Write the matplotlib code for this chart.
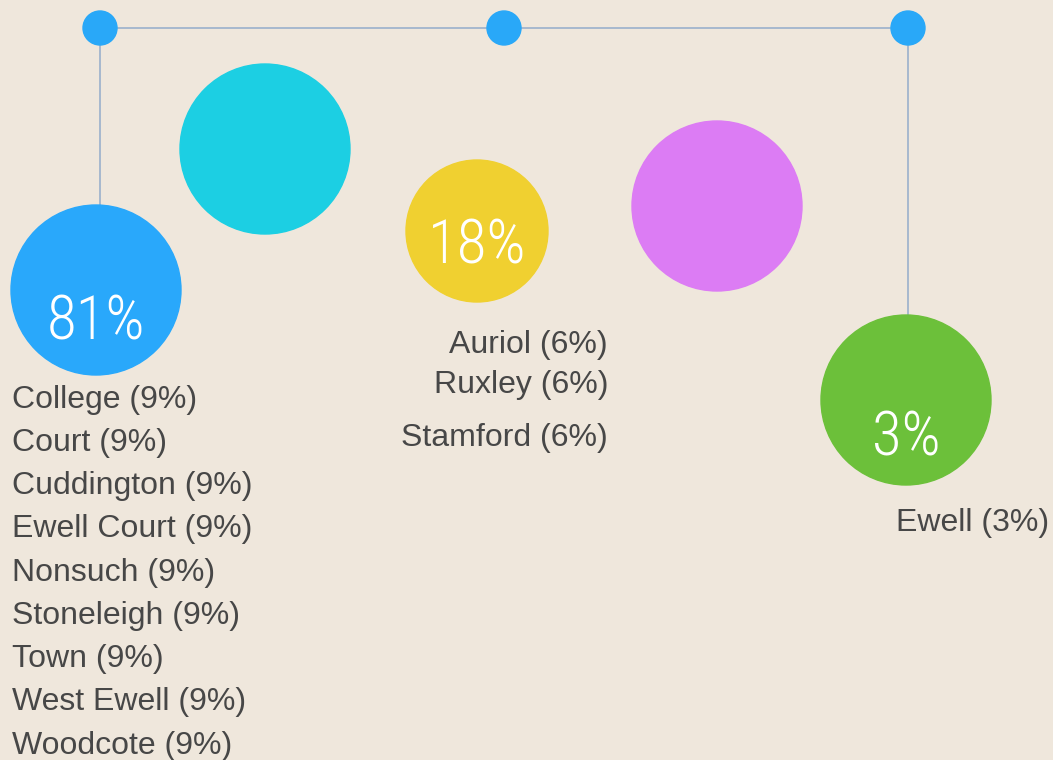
import matplotlib
matplotlib.use("Agg")
import matplotlib.pyplot as plt
from matplotlib.patches import Circle
from matplotlib import font_manager as fm

# data
groups = ["g1", "g2", "g3", "g4", "g5"]
group_share = ["81%", "", "18%", "", "3%"]
group_colors = ["#29a8fb", "#1ccfe3", "#f0d030", "#dc7cf4", "#6cc03a"]

areas_1 = ["College", "Court", "Cuddington", "Ewell Court", "Nonsuch",
           "Stoneleigh", "Town", "West Ewell", "Woodcote"]
areas_1_pct = [9, 9, 9, 9, 9, 9, 9, 9, 9]
areas_3 = ["Auriol", "Ruxley", "Stamford"]
areas_3_pct = [6, 6, 6]
areas_5 = ["Ewell"]
areas_5_pct = [3]

bg = "#efe7dc"
line_col = "#9ab0cc"
text_col = "#474747"

# pick an upright narrow font for the big percentages if one is around
narrow = None
for f in fm.fontManager.ttflist:
    if f.style != "normal":
        continue
    if f.name in ("Roboto Condensed", "Liberation Sans Narrow", "DejaVu Sans Condensed") \
            or f.stretch in ("condensed", "semi-condensed", "extra-condensed"):
        light = f.weight in (300, 200, "light", "extra-light")
        if narrow is None or light:
            narrow = f
if narrow is not None:
    pct_font = dict(fontproperties=fm.FontProperties(fname=narrow.fname, size=44))
else:
    pct_font = dict(family="Roboto", weight="light", fontsize=40)

fig = plt.figure(figsize=(10.53, 7.6), dpi=100, facecolor=bg)
ax = fig.add_axes([0, 0, 1, 1])
ax.set_xlim(0, 1053)
ax.set_ylim(760, 0)
ax.set_aspect("equal")
ax.axis("off")
ax.set_facecolor(bg)

# connector lines
ax.plot([100, 908], [28, 28], color=line_col, lw=1.2, zorder=1)
ax.plot([100, 100], [28, 210], color=line_col, lw=1.2, zorder=1)
ax.plot([908, 908], [28, 320], color=line_col, lw=1.2, zorder=1)
for x in [100, 504, 908]:
    ax.add_patch(Circle((x, 28), 17, color="#29a8f8", zorder=3))

# bubbles
centers = [(96, 290), (265, 149), (477, 231), (717, 206), (906, 400)]
radii = [85, 85, 71, 85, 85]
baselines = [340, 0, 263, 0, 455]
for (cx, cy), r, c, s, b in zip(centers, radii, group_colors, group_share, baselines):
    ax.add_patch(Circle((cx, cy), r, color=c, zorder=2))
    if s:
        ax.text(cx, b, s, color="white", ha="center", va="baseline", zorder=4, **pct_font)

lab = dict(family="Liberation Sans", fontsize=23, color=text_col, va="center")

y1 = [400, 443, 486, 529, 573, 616, 659, 702, 746]
for name, p, y in zip(areas_1, areas_1_pct, y1):
    ax.text(12, y, f"{name} ({p}%)", ha="left", **lab)

y3 = [345, 385, 438]
for name, p, y in zip(areas_3, areas_3_pct, y3):
    ax.text(608, y, f"{name} ({p}%)", ha="right", **lab)

for name, p in zip(areas_5, areas_5_pct):
    ax.text(1049, 523, f"{name} ({p}%)", ha="right", **lab)

fig.savefig("out.png", dpi=100, facecolor=bg)
